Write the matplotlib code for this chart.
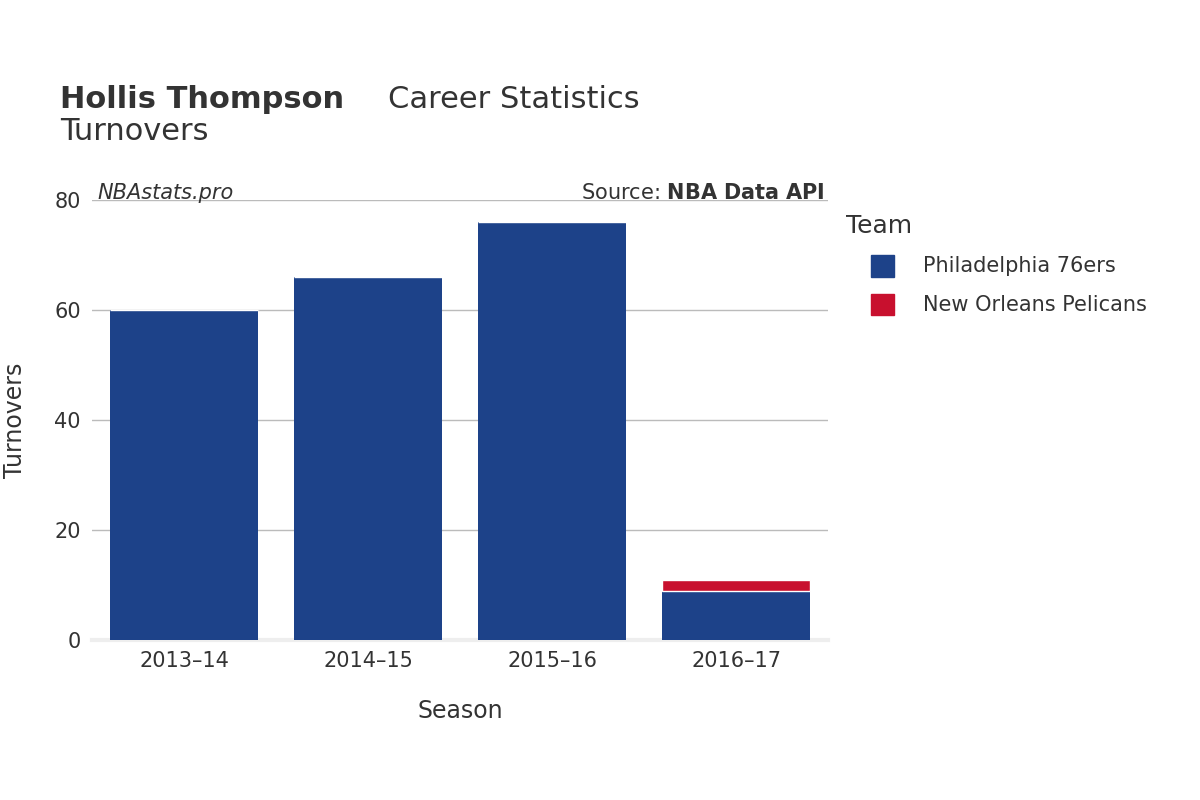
import matplotlib.pyplot as plt

seasons = ['2013–14', '2014–15', '2015–16', '2016–17']
phi = [60, 66, 76, 9]
nop = [0, 0, 0, 2]

blue = '#1d4289'
red = '#c8102e'
txt = '#333333'

fig = plt.figure(figsize=(12, 8), dpi=100)
ax = fig.add_axes([0.0767, 0.2, 0.6133, 0.55])

x = range(len(seasons))
ax.bar(x, phi, width=0.8, color=blue, zorder=3)
ax.bar(x, nop, width=0.8, bottom=phi, color=red, edgecolor='white', linewidth=1, zorder=3)

ax.set_xlim(-0.5, 3.5)
ax.set_ylim(0, 80)
ax.set_yticks([0, 20, 40, 60, 80])
ax.set_xticks(list(x))
ax.set_xticklabels(seasons)
ax.tick_params(length=0, labelsize=15, colors=txt, pad=8)
ax.grid(axis='y', color='#bbbbbb', linewidth=1, zorder=0)
for s in ['top', 'right', 'left']:
    ax.spines[s].set_visible(False)
ax.spines['bottom'].set_color('#eeeeee')
ax.spines['bottom'].set_linewidth(3)

ax.set_xlabel('Season', fontsize=17, color=txt, labelpad=20)
ax.set_ylabel('Turnovers', fontsize=17, color=txt, labelpad=20)

fig.text(0.05, 0.875, 'Hollis Thompson', fontsize=22, fontweight='bold', color=txt, va='center')
fig.text(0.323, 0.875, 'Career Statistics', fontsize=22, color=txt, va='center')
fig.text(0.05, 0.835, 'Turnovers', fontsize=22, color=txt, va='center')
fig.text(0.081, 0.759, 'NBAstats.pro', fontsize=15, style='italic', color=txt, va='center')
fig.text(0.687, 0.759, 'Source: $\\bf{NBA\\ Data\\ API}$', fontsize=15, color=txt, va='center', ha='right')

fig.text(0.705, 0.717, 'Team', fontsize=18, color=txt, va='center')
for i, (lab, c) in enumerate([('Philadelphia 76ers', blue), ('New Orleans Pelicans', red)]):
    y = 0.667 - i * 0.048
    fig.patches.append(plt.Rectangle((0.726, y - 0.013), 0.019, 0.027, transform=fig.transFigure,
                                     color=c, figure=fig))
    fig.text(0.769, y, lab, fontsize=15, color=txt, va='center')

fig.savefig('out.png')
